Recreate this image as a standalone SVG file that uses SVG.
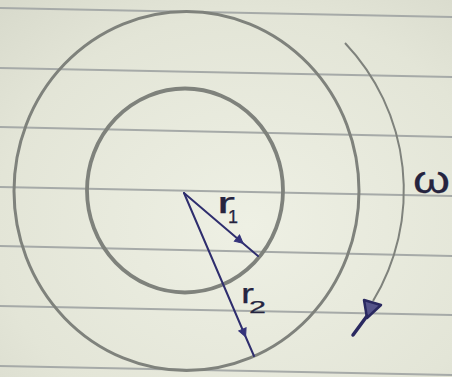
<svg xmlns="http://www.w3.org/2000/svg" width="452" height="377" viewBox="0 0 452 377">
  <defs>
    <radialGradient id="paper" cx="0.55" cy="0.6" r="0.8">
      <stop offset="0" stop-color="#eef0e4"/>
      <stop offset="0.7" stop-color="#e3e5d7"/>
      <stop offset="1" stop-color="#d8dacc"/>
    </radialGradient>
    <marker id="tri" viewBox="-5 -5 10 10" markerWidth="10" markerHeight="10" markerUnits="userSpaceOnUse" orient="auto">
      <path d="M-4,-4 L4,0 L-4,4 Z" fill="#34337a" stroke="#34337a" stroke-width="1"/>
    </marker>
    <style>
      .rule { stroke: #a6aaa8; stroke-width: 2.2; fill: none; }
      .pencil { stroke: #7f827c; fill: none; }
      .ink { stroke: #2f2e6e; stroke-width: 2; fill: none; stroke-linecap: round; }
      .hand { font-family: "Liberation Sans", "DejaVu Sans", sans-serif; fill: #25243f; stroke: #25243f; stroke-width: 0.25; }
    </style>
  </defs>

  <rect width="452" height="377" fill="url(#paper)"/>

  <g id="ruled-lines">
    <line class="rule" x1="0" y1="8" x2="452" y2="17"/>
    <line class="rule" x1="0" y1="68" x2="452" y2="77"/>
    <line class="rule" x1="0" y1="127" x2="452" y2="137"/>
    <line class="rule" x1="0" y1="187" x2="452" y2="196"/>
    <line class="rule" x1="0" y1="246" x2="452" y2="256"/>
    <line class="rule" x1="0" y1="306" x2="452" y2="315"/>
    <line class="rule" x1="0" y1="366" x2="452" y2="375"/>
  </g>

  <g id="outer-circle">
    <ellipse class="pencil" cx="186.5" cy="191" rx="172.5" ry="179.5" stroke-width="3"/>
  </g>
  <g id="inner-circle">
    <ellipse class="pencil" cx="185" cy="190.5" rx="98" ry="102" stroke-width="3.8"/>
  </g>

  <g id="connectors">
    <path class="ink" d="M184,193 L240,240.7 L258,256" marker-mid="url(#tri)"/>
    <path class="ink" d="M184,193 L244,333 L254,356" marker-mid="url(#tri)"/>
    <path class="pencil" stroke-width="2" d="M345,43 A214,214 0 0 1 373,301"/>
    <path d="M364,300 L381,305 L367,318 Z" fill="#55548a" stroke="#2a2960" stroke-width="2.5" stroke-linejoin="round"/>
    <path d="M367,316 L353,335" stroke="#2a2960" stroke-width="3.5" stroke-linecap="round" fill="none"/>
  </g>

  <g id="label-r1">
    <text class="hand" x="217" y="213" font-size="30" textLength="18" lengthAdjust="spacingAndGlyphs">r</text>
    <text class="hand" x="228" y="223" font-size="18">1</text>
  </g>
  <g id="label-r2">
    <text class="hand" x="241" y="303" font-size="28" textLength="13" lengthAdjust="spacingAndGlyphs">r</text>
    <text class="hand" x="249" y="313" font-size="17" textLength="17" lengthAdjust="spacingAndGlyphs">2</text>
  </g>
  <g id="label-omega">
    <text class="hand" x="413" y="193" font-size="38" textLength="37" lengthAdjust="spacingAndGlyphs" fill="#1e1e24" stroke="#1e1e24" stroke-width="0.5">ω</text>
  </g>
</svg>
